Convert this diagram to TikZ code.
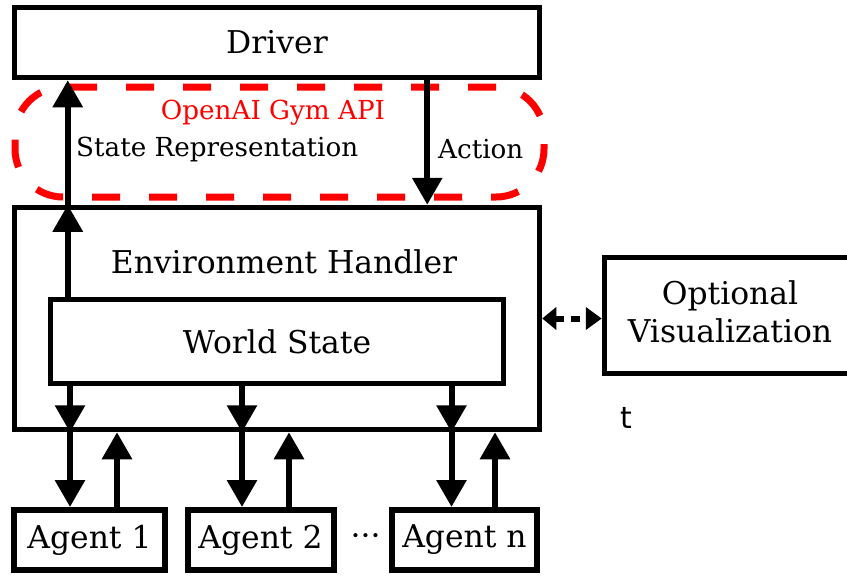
\documentclass[tikz,border=0pt]{standalone}
\usepackage{fontspec}
\setmainfont{DejaVu Serif}
\newfontfamily\sansfont{DejaVu Sans}
\usetikzlibrary{arrows.meta,positioning}

\begin{document}
\begin{tikzpicture}[x=1pt,y=-1pt]
\tikzstyle{blok} = [draw, line width=5.5pt, fill=white, inner sep=0pt, font=\fontsize{31.4}{38}\selectfont]
\tikzstyle{agent} = [blok, line width=6pt, minimum height=60pt]
\tikzstyle{tekst} = [inner sep=0pt, font=\fontsize{31.4}{38}\selectfont]
\tikzstyle{klein} = [inner sep=0pt, font=\fontsize{26.2}{31}\selectfont]
\tikzstyle{pijl} = [line width=6pt, -{Triangle[length=27pt,width=29pt]}]
\tikzstyle{duopijl} = [line width=6pt, dash pattern=on 9pt off 7pt, {Triangle[length=14pt,width=22pt]}-{Triangle[length=16pt,width=22pt]}]
\tikzstyle{api} = [draw=red, line width=7pt, dash pattern=on 28pt off 29pt, rounded corners=48pt, minimum width=529pt, minimum height=110pt]

\useasboundingbox (0,0) rectangle (847,576);

\node [api] (gym) at (279.5,142) {};
\node [klein, text=red] (gymtxt) at (273,113) {OpenAI Gym API};

\node [blok, minimum width=525pt, minimum height=70pt] (driver) at (277,42.5) {Driver};

\node [blok, minimum width=525pt, minimum height=222pt] (env) [below of=driver, node distance=276pt] {};
\node [tekst] (envtxt) at (284,262) {Environment Handler};

\node [blok, minimum width=453pt, minimum height=84pt] (world) [below of=env, node distance=23pt] {World State};

\node [blok, minimum width=251pt, minimum height=116pt, align=center, text depth=8pt] (vis) [right of=env, node distance=453pt, yshift=3pt] {Optional\\Visualization};
\draw [duopijl] (env.east) -- (env.east -| vis.west);

\node [font=\sansfont\fontsize{30}{36}\selectfont, inner sep=0pt] (t) at (626,418) {t};

% driver <-> environment
\coordinate (sr) at ([xshift=20pt]world.north west);
\draw [pijl] (sr) -- (sr |- env.north);
\draw [pijl] (sr |- env.north) -- (sr |- driver.south);
\node [klein, anchor=west] (srtxt) at (76,149) {State Representation};

\coordinate (ac) at ([xshift=-115pt]driver.south east);
\draw [pijl] (ac) -- (ac |- env.north);
\node [klein, anchor=west] (actxt) at (438,149) {Action};

% agents
\node [agent, minimum width=151pt] (agent1) at (89.5,540) {Agent 1};
\node [agent, minimum width=146pt] (agent2) [right of=agent1, node distance=171pt] {Agent 2};
\node [tekst] (dots) [right of=agent2, node distance=105pt] {···};
\node [agent, minimum width=145pt] (agentn) [right of=agent2, node distance=204pt] {Agent n};

\coordinate (a1d) at ([xshift=-19.5pt]agent1.north);
\coordinate (a1u) at ([xshift=27.5pt]agent1.north);
\draw [pijl] (a1d |- world.south) -- (a1d |- env.south);
\draw [pijl] (a1d |- env.south) -- (a1d);
\draw [pijl] (a1u) -- (a1u |- env.south);

\coordinate (a2d) at ([xshift=-18.5pt]agent2.north);
\coordinate (a2u) at ([xshift=28.5pt]agent2.north);
\draw [pijl] (a2d |- world.south) -- (a2d |- env.south);
\draw [pijl] (a2d |- env.south) -- (a2d);
\draw [pijl] (a2u) -- (a2u |- env.south);

\coordinate (and) at ([xshift=-13pt]agentn.north);
\coordinate (anu) at ([xshift=30.5pt]agentn.north);
\draw [pijl] (and |- world.south) -- (and |- env.south);
\draw [pijl] (and |- env.south) -- (and);
\draw [pijl] (anu) -- (anu |- env.south);
\end{tikzpicture}
\end{document}
